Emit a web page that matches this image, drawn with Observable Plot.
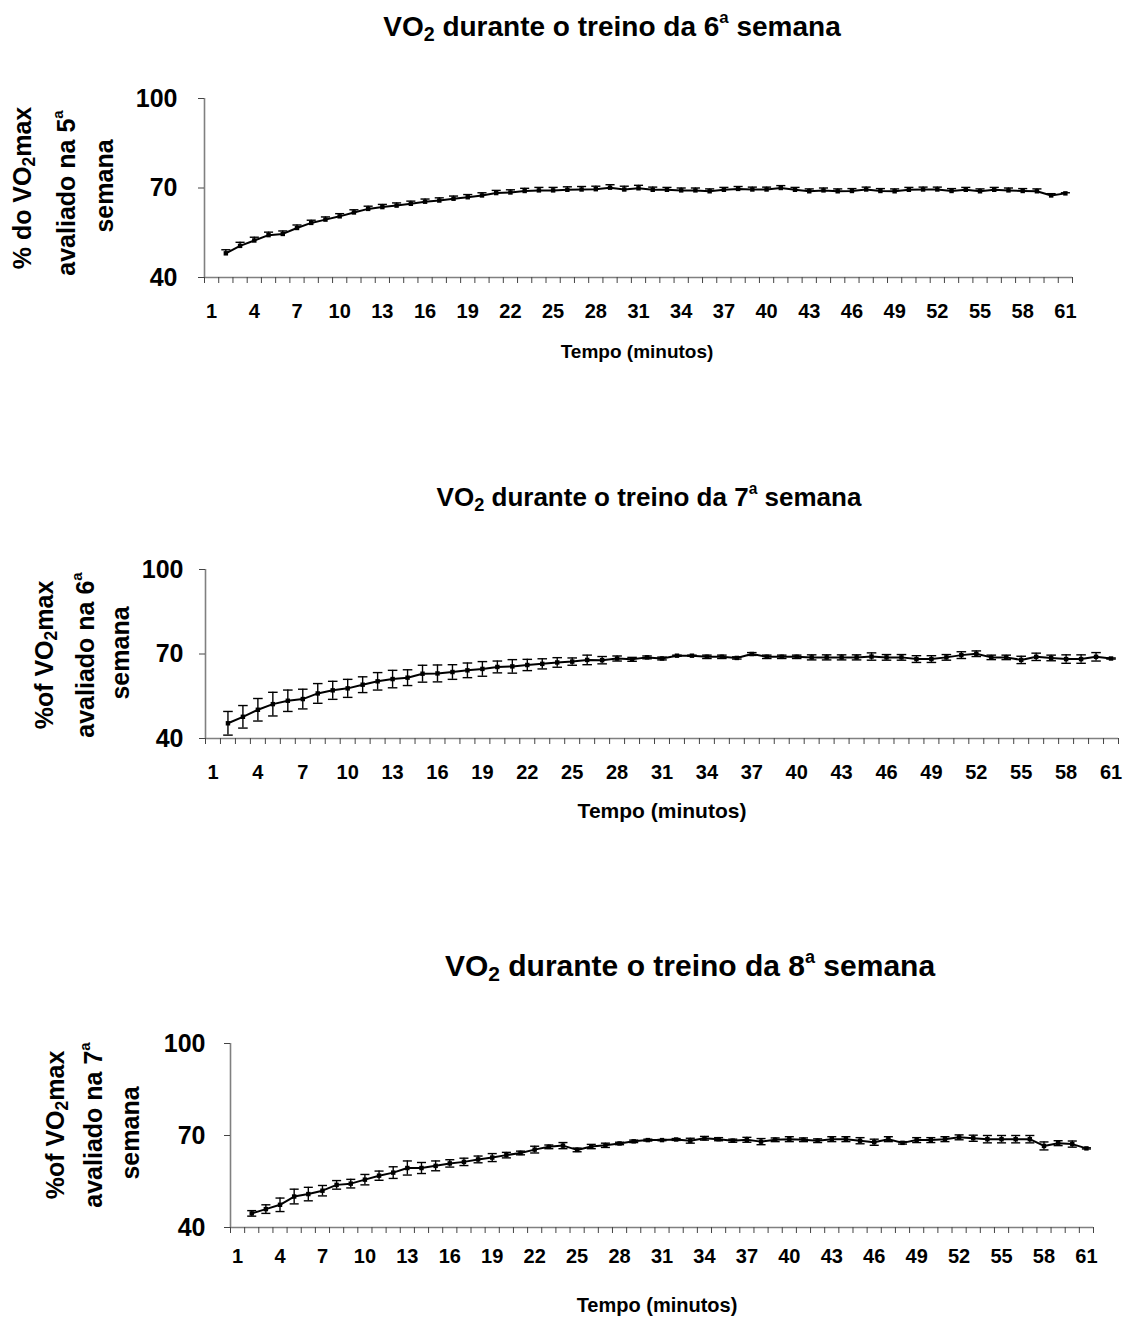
<!DOCTYPE html>
<html><head><meta charset="utf-8">
<script src="https://cdn.jsdelivr.net/npm/d3@7"></script>
<script src="https://cdn.jsdelivr.net/npm/@observablehq/plot@0.6"></script>
<style>
body{margin:0;background:#fff;font-family:"Liberation Sans",Arial,sans-serif;}
#root{position:relative;width:1129px;height:1318px;overflow:hidden;}
#root svg{position:absolute;left:0;}
.t{position:absolute;font-weight:bold;white-space:nowrap;color:#000;line-height:1;transform:translate(-50%,-50%);}
.r{transform:translate(-50%,-50%) rotate(-90deg);}
.t sub{font-size:70%;vertical-align:-0.25em;line-height:0;}
.t sup{font-size:60%;vertical-align:0.75em;line-height:0;}
</style></head><body><div id="root"></div>
<script>
// minutes 2..61 (category 1 has no data)
const minutes = [2,3,4,5,6,7,8,9,10,11,12,13,14,15,16,17,18,19,20,21,22,23,24,25,26,27,28,29,30,31,32,33,34,35,36,37,38,39,40,41,42,43,44,45,46,47,48,49,50,51,52,53,54,55,56,57,58,59,60,61];
const xTickLabels = [1,4,7,10,13,16,19,22,25,28,31,34,37,40,43,46,49,52,55,58,61];
const yTicks = [40,70,100];

const week6Mean = [48.1,50.6,52.4,54.2,54.6,56.6,58.3,59.4,60.5,61.8,63.0,63.6,64.1,64.7,65.4,65.8,66.4,66.9,67.5,68.3,68.5,69.0,69.2,69.2,69.4,69.5,69.6,70.1,69.5,69.9,69.4,69.4,69.2,69.2,68.9,69.4,69.7,69.5,69.5,70.0,69.4,68.9,69.2,68.9,69.0,69.5,69.0,68.9,69.4,69.5,69.5,69.0,69.4,68.9,69.4,69.2,69.0,68.9,67.5,68.2];
const week6SE = [1.2,1.2,1.1,1.0,1.0,1.0,0.9,0.9,0.9,0.9,0.9,0.9,0.9,0.9,0.9,0.9,0.9,0.9,0.9,0.9,0.9,0.9,1.0,1.0,1.0,1.0,1.0,1.0,1.1,1.0,0.9,0.8,0.8,0.8,0.8,0.8,0.8,0.8,0.8,0.8,0.8,0.8,0.8,0.8,0.8,0.8,0.8,0.8,0.8,0.8,0.8,0.8,0.8,0.8,0.8,0.8,0.8,0.8,0.6,0.2];

const week7Mean = [45.4,47.7,50.2,52.2,53.4,54.0,56.0,57.1,57.8,59.1,60.3,61.1,61.6,63.0,63.1,63.6,64.2,64.7,65.4,65.6,66.1,66.5,67.0,67.3,67.9,67.8,68.4,68.1,68.8,68.4,69.4,69.4,69.0,69.0,68.6,70.0,69.0,69.0,69.0,68.8,68.8,68.8,68.8,69.1,68.8,68.8,68.2,68.2,68.8,69.6,70.1,68.8,68.8,67.9,69.0,68.6,68.2,68.2,69.0,68.4];
const week7SE = [4.2,4.0,4.0,4.2,3.8,3.5,3.5,3.2,3.2,2.8,3.1,3.1,2.8,3.0,3.0,2.6,2.6,2.6,2.1,2.4,2.0,1.8,1.7,1.3,1.7,1.3,0.9,0.7,0.5,0.5,0.2,0.2,0.6,0.6,0.4,0.5,0.6,0.6,0.6,0.9,0.9,0.9,0.9,1.3,1.0,1.0,1.2,1.2,1.0,1.2,1.0,0.8,0.8,1.3,1.3,1.0,1.5,1.5,1.5,0.2];

const week8Mean = [44.6,46.0,47.4,50.1,50.9,52.0,53.9,54.3,55.6,56.9,57.9,59.4,59.4,60.1,60.9,61.4,62.2,62.8,63.6,64.3,65.4,66.3,66.7,65.3,66.4,66.8,67.4,68.1,68.5,68.5,68.7,68.3,69.1,68.8,68.3,68.6,68.0,68.6,68.8,68.6,68.3,68.8,68.8,68.3,67.8,68.8,67.6,68.5,68.5,68.8,69.4,69.1,68.8,68.8,68.8,68.8,66.6,67.5,67.2,65.8];
const week8SE = [0.9,1.4,2.2,2.4,2.2,1.7,1.4,1.4,1.7,1.5,1.9,2.3,1.8,1.6,1.2,1.2,1.1,1.3,0.9,0.6,1.1,0.6,1.0,0.6,0.7,0.7,0.4,0.4,0.3,0.2,0.3,0.8,0.6,0.5,0.5,0.8,1.0,0.6,0.8,0.6,0.6,0.8,0.8,1.0,1.0,0.8,0.4,0.8,0.8,0.8,0.8,1.0,1.2,1.2,1.2,1.2,1.3,0.8,1.0,0.2];

const root = document.getElementById("root");
const boundaries = d3.range(0.5, 62, 1);

function addText(html, x, y, size, rotate) {
  const d = document.createElement("div");
  d.className = "t" + (rotate ? " r" : "");
  d.style.left = x + "px";
  d.style.top = y + "px";
  d.style.fontSize = size + "px";
  d.innerHTML = html;
  root.appendChild(d);
}

function panel(cfg) {
  const data = minutes.map((m, i) => ({m, v: cfg.mean[i], e: cfg.se[i]}));
  const lo = d => cfg.upperOnly ? d.v : d.v - d.e;
  const hi = d => d.v + d.e;
  const cap = 0.32;
  const marks = [
    Plot.ruleY([40], {stroke: "#808080", strokeWidth: 1.6}),
    Plot.ruleX([0.5], {stroke: "#808080", strokeWidth: 1.6}),
    Plot.axisY({ticks: yTicks, tickSize: 6, tickPadding: cfg.yPad, fontSize: 25, fontWeight: "bold", stroke: "#444", label: null}),
    Plot.axisX({ticks: boundaries, tickSize: 6, tickFormat: () => "", stroke: "#444", label: null}),
    Plot.axisX({ticks: xTickLabels, tickSize: 0, tickPadding: cfg.xPad, fontSize: cfg.xFont, fontWeight: "bold", label: null}),
    Plot.ruleX(data, {x: "m", y1: lo, y2: hi, stroke: "#000", strokeWidth: 1.4}),
    Plot.link(data, {x1: d => d.m - cap, x2: d => d.m + cap, y1: hi, y2: hi, stroke: "#000", strokeWidth: 1.4})
  ];
  if (!cfg.upperOnly) marks.push(Plot.link(data, {x1: d => d.m - cap, x2: d => d.m + cap, y1: lo, y2: lo, stroke: "#000", strokeWidth: 1.4}));
  marks.push(
    Plot.line(data, {x: "m", y: "v", stroke: "#000", strokeWidth: 2}),
    Plot.dot(data, {x: "m", y: "v", symbol: "square", r: 2.5, fill: "#000", stroke: "none"})
  );
  const svg = Plot.plot({
    width: 1129, height: cfg.height,
    marginTop: cfg.mt, marginBottom: cfg.mb, marginLeft: cfg.ml, marginRight: cfg.mr,
    x: {domain: [0.5, 61.5], label: null},
    y: {domain: [40, 100], label: null},
    style: {fontFamily: "'Liberation Sans', Arial, sans-serif", color: "#000", background: "transparent", overflow: "visible"},
    marks
  });
  svg.style.top = cfg.top + "px";
  root.appendChild(svg);
}

// Panel 1
panel({top: 60, height: 330, mt: 38, mb: 113, ml: 204, mr: 57, mean: week6Mean, se: week6SE, upperOnly: true, yPad: 21, xPad: 26, xFont: 20});
addText("VO<sub>2</sub> durante o treino da 6<sup>a</sup> semana", 612, 27, 28);
addText("Tempo (minutos)", 637, 351, 19);
addText("% do VO<sub>2</sub>max", 22, 188, 25, true);
addText("avaliado na 5<sup>a</sup>", 66, 193, 25, true);
addText("semana", 104, 186, 25, true);

// Panel 2
panel({top: 530, height: 300, mt: 39, mb: 92, ml: 205, mr: 11, mean: week7Mean, se: week7SE, upperOnly: false, yPad: 16, xPad: 26, xFont: 20});
addText("VO<sub>2</sub> durante o treino da 7<sup>a</sup> semana", 649, 497, 26);
addText("Tempo (minutos)", 662, 810, 21);
addText("%of VO<sub>2</sub>max", 44, 655, 25, true);
addText("avaliado na 6<sup>a</sup>", 85, 655, 25, true);
addText("semana", 120, 653, 25, true);

// Panel 3
panel({top: 1000, height: 300, mt: 43, mb: 73, ml: 230, mr: 36, mean: week8Mean, se: week8SE, upperOnly: false, yPad: 19, xPad: 21, xFont: 20});
addText("VO<sub>2</sub> durante o treino da 8<sup>a</sup> semana", 690, 966, 30);
addText("Tempo (minutos)", 657, 1305, 20);
addText("%of VO<sub>2</sub>max", 55, 1125, 25, true);
addText("avaliado na 7<sup>a</sup>", 93, 1125, 25, true);
addText("semana", 130, 1133, 25, true);
</script>
</body></html>
